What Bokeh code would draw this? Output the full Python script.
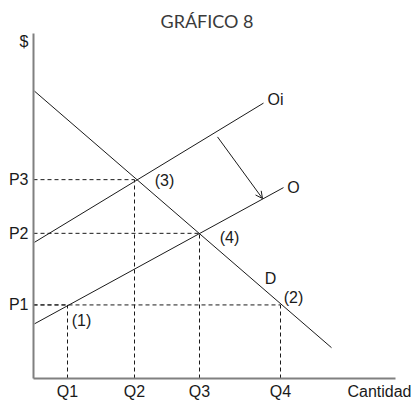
from bokeh.plotting import figure
from bokeh.models import Range1d, FixedTicker, Arrow, OpenHead, ColumnDataSource
from bokeh.core.properties import value
from bokeh.embed import file_html
from bokeh.resources import INLINE

# ---- data (quantity / price units) ----
q_labels = ["Q1", "Q2", "Q3", "Q4"]
q_values = [3.4, 10.1, 16.6, 24.7]
p_labels = ["P1", "P2", "P3"]
p_values = [7.4, 14.6, 20.0]

demand_x = [0.1, 29.8]
demand_y = [28.9, 3.1]
supply_init_x = [0.1, 23.0]   # Oi
supply_init_y = [13.7, 27.7]
supply_x = [0.1, 25.0]        # O
supply_y = [5.5, 19.2]

shift_x = [18.4, 22.9]        # arrow from Oi to O
shift_y = [24.3, 18.1]

# guide lines: equilibrium points (quantity, price)
guide_q = [3.4, 24.7, 10.1, 16.6]
guide_p = [7.4, 7.4, 20.0, 14.6]

note_text = ["(1)", "(2)", "(3)", "(4)", "D", "Oi", "O"]
note_x = [4.8, 26.0, 13.1, 19.6, 23.7, 24.2, 26.0]
note_y = [5.8, 8.1, 19.9, 14.2, 10.1, 28.1, 19.2]

x_axis_name = "Cantidad"
x_axis_name_pos = 34.6
y_axis_name = "$"
y_axis_name_pos = 33.9
x_max = 36.2
y_max = 34.7

title_text = "GRÁFICO 8"

FONT = "Liberation Sans"
INK = "#1a1a1a"

p = figure(width=411, height=402, output_backend="svg", toolbar_location=None,
           x_range=Range1d(0, x_max), y_range=Range1d(0, y_max),
           min_border_left=33, min_border_right=16, min_border_top=33,
           min_border_bottom=22, title=title_text)
p.title.text_font = "Lato"
p.title.text_font_size = "18px"
p.title.text_font_style = "normal"
p.title.text_color = "#3a3a3a"
p.title.align = "left"
p.title.offset = 127
p.title.standoff = 4
p.outline_line_color = None
p.grid.visible = False

for ax in (p.xaxis[0], p.yaxis[0]):
    ax.axis_line_color = "#808080"
    ax.axis_line_width = 2
    ax.major_tick_line_color = None
    ax.minor_tick_line_color = None
    ax.major_tick_out = 0
    ax.major_tick_in = 0
    ax.major_label_text_font = FONT
    ax.major_label_text_font_size = "16px"
    ax.major_label_text_color = INK

p.xaxis[0].major_label_standoff = 4
p.yaxis[0].major_label_standoff = 5

p.xaxis[0].ticker = FixedTicker(ticks=q_values + [x_axis_name_pos])
p.xaxis[0].major_label_overrides = {**dict(zip(q_values, q_labels)), x_axis_name_pos: x_axis_name}
p.xaxis[0].bounds = (0, x_max)
p.yaxis[0].ticker = FixedTicker(ticks=p_values + [y_axis_name_pos])
p.yaxis[0].major_label_overrides = {**dict(zip(p_values, p_labels)), y_axis_name_pos: y_axis_name}
p.yaxis[0].bounds = (0, y_max)

# dashed guides
dash = "4 3"
p.segment(x0=[0] * len(guide_q), y0=guide_p, x1=guide_q, y1=guide_p,
          line_color=INK, line_width=1, line_dash=dash)
p.segment(x0=guide_q, y0=[0] * len(guide_q), x1=guide_q, y1=guide_p,
          line_color=INK, line_width=1, line_dash=dash)

# curves
p.line(demand_x, demand_y, line_color=INK, line_width=1)
p.line(supply_init_x, supply_init_y, line_color=INK, line_width=1)
p.line(supply_x, supply_y, line_color=INK, line_width=1)

p.add_layout(Arrow(end=OpenHead(size=7, line_width=1, line_color=INK),
                   x_start=shift_x[0], y_start=shift_y[0],
                   x_end=shift_x[1], y_end=shift_y[1],
                   line_color=INK, line_width=1))

src = ColumnDataSource(dict(x=note_x, y=note_y, t=note_text))
p.text(x="x", y="y", text="t", source=src, text_align="center",
       text_baseline="middle", text_font=value(FONT), text_font_size="16px",
       text_color=INK)

open("out.html", "w").write(file_html(p, INLINE))
